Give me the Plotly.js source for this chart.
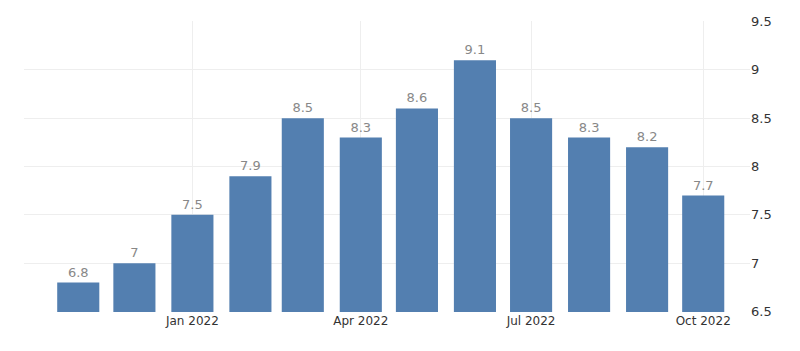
<!DOCTYPE html>
<html>
<head>
<meta charset="utf-8">
<script src="https://cdn.plot.ly/plotly-3.0.1.min.js"></script>
<style>html,body{margin:0;padding:0;background:#fff;}#chart{width:800px;height:351px;}</style>
</head>
<body>
<div id="chart"></div>
<script>
const months = ['2021-11-01','2021-12-01','2022-01-01','2022-02-01','2022-03-01','2022-04-01','2022-05-01','2022-06-01','2022-07-01','2022-08-01','2022-09-01','2022-10-01'];
const values = [6.8, 7, 7.5, 7.9, 8.5, 8.3, 8.6, 9.1, 8.5, 8.3, 8.2, 7.7];
const valueLabels = ['6.8','7','7.5','7.9','8.5','8.3','8.6','9.1','8.5','8.3','8.2','7.7'];
const xTickVals = ['2022-01-01','2022-04-01','2022-07-01','2022-10-01'];
const xTickText = ['Jan 2022','Apr 2022','Jul 2022','Oct 2022'];
const yTickVals = [6.5, 7, 7.5, 8, 8.5, 9, 9.5];
const yTickText = ['6.5','7','7.5','8','8.5','9','9.5'];

const DAY = 86400000;
const trace = {
  type: 'bar',
  x: months,
  y: values,
  width: months.map(() => 22.5 * DAY),
  marker: {color: '#537fb0'},
  text: valueLabels,
  textposition: 'outside',
  textfont: {family: 'DejaVu Sans', size: 13, color: '#888888'},
  cliponaxis: false,
  hoverinfo: 'none'
};

const layout = {
  width: 800, height: 351,
  margin: {l: 24, r: 50, t: 21, b: 39},
  paper_bgcolor: '#fff', plot_bgcolor: '#fff',
  showlegend: false,
  xaxis: {
    type: 'date',
    range: ['2021-10-03', '2022-10-26'],
    tickmode: 'array', tickvals: xTickVals, ticktext: xTickText,
    showgrid: true, gridcolor: '#eeeeee', gridwidth: 1,
    zeroline: false, showline: false, ticks: '',
    tickfont: {family: 'DejaVu Sans', size: 12, color: '#333'}
  },
  yaxis: {
    side: 'right',
    range: [6.495, 9.505],
    tickmode: 'array', tickvals: yTickVals, ticktext: yTickText,
    showgrid: true, gridcolor: '#eeeeee', gridwidth: 1,
    zeroline: false, showline: false, ticks: '',
    tickfont: {family: 'DejaVu Sans', size: 13, color: '#333'}
  }
};
Plotly.newPlot('chart', [trace], layout, {staticPlot: true, displayModeBar: false});
</script>
</body>
</html>
